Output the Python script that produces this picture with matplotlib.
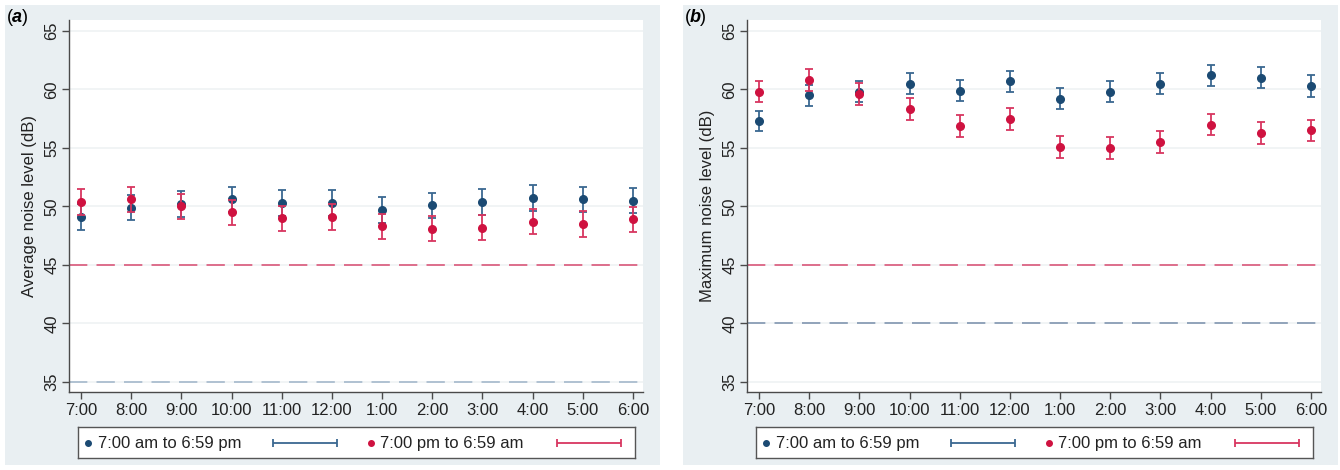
import matplotlib
matplotlib.use('Agg')
import matplotlib.pyplot as plt
from matplotlib.patches import Rectangle

plt.rcParams['font.family'] = ['Liberation Sans', 'DejaVu Sans']

hours = ['7:00', '8:00', '9:00', '10:00', '11:00', '12:00',
         '1:00', '2:00', '3:00', '4:00', '5:00', '6:00']

# (a) average noise level, mean and 95% CI half width
avg_day = [49.1, 49.9, 50.2, 50.6, 50.3, 50.3, 49.7, 50.1, 50.4, 50.7, 50.6, 50.5]
avg_day_err = [1.08, 1.09, 1.1, 1.09, 1.1, 1.1, 1.1, 1.09, 1.1, 1.11, 1.1, 1.1]
avg_night = [50.4, 50.6, 50.0, 49.5, 49.0, 49.1, 48.3, 48.1, 48.2, 48.7, 48.5, 48.9]
avg_night_err = [1.09, 1.1, 1.08, 1.07, 1.08, 1.07, 1.06, 1.07, 1.07, 1.07, 1.07, 1.07]

# (b) maximum noise level
max_day = [57.3, 59.5, 59.8, 60.5, 59.9, 60.7, 59.2, 59.8, 60.5, 61.2, 61.0, 60.3]
max_day_err = [0.89, 0.89, 0.9, 0.9, 0.9, 0.9, 0.9, 0.9, 0.9, 0.92, 0.9, 0.9]
max_night = [59.8, 60.8, 59.6, 58.3, 56.9, 57.5, 55.1, 55.0, 55.5, 57.0, 56.3, 56.5]
max_night_err = [0.9, 0.97, 0.93, 0.93, 0.93, 0.93, 0.93, 0.93, 0.93, 0.93, 0.93, 0.93]

# guideline levels
limits_a = [45, 35]
limits_b = [45, 40]

day_label = '7:00 am to 6:59 pm'
night_label = '7:00 pm to 6:59 am'

navy = '#1B4A73'
navy_bar = '#3A6891'
red = '#CF1240'
red_bar = '#D83660'
red_dash = '#D9577A'
bg = '#E9EFF2'
fs = 12

W, H = 1340, 470
fig = plt.figure(figsize=(13.4, 4.7), dpi=100)
fig.patch.set_facecolor('white')


def px(x0, y0, x1, y1):
    # pixel box (top-left origin) -> figure fraction rect
    return [x0 / W, 1 - y1 / H, (x1 - x0) / W, (y1 - y0) / H]


def panel(off, day, day_err, night, night_err, limits, lim_colors, ylabel, tag):
    r = px(off + 5, 5, off + 660, 465)
    fig.patches.append(Rectangle((r[0], r[1]), r[2], r[3], transform=fig.transFigure,
                                 facecolor=bg, edgecolor='none', zorder=-10))
    ax = fig.add_axes(px(off + 69, 20, off + 643, 392))
    ax.set_facecolor('white')
    x = range(len(hours))
    for y, c in zip(limits, lim_colors):
        ax.axhline(y, color=c, lw=1.2, dashes=(11, 5.5), zorder=1)
    ax.errorbar(x, day, yerr=day_err, fmt='none', ecolor=navy_bar, elinewidth=1.3,
                capsize=3.2, capthick=1.3, zorder=3)
    ax.plot(x, day, 'o', color=navy, ms=5.5, zorder=4)
    ax.errorbar(x, night, yerr=night_err, fmt='none', ecolor=red_bar, elinewidth=1.3,
                capsize=3.2, capthick=1.3, zorder=5)
    ax.plot(x, night, 'o', color=red, ms=5.5, zorder=6)

    ax.set_xlim(-0.24, 11.2)
    ax.set_ylim(34.14, 65.94)
    ax.set_yticks([35, 40, 45, 50, 55, 60, 65])
    ax.set_xticks(list(x))
    ax.set_xticklabels(hours)
    ax.grid(axis='y', color='#EDF1F3', lw=1.1, zorder=0)
    ax.set_axisbelow(True)
    for s in ['top', 'right']:
        ax.spines[s].set_visible(False)
    for s in ['left', 'bottom']:
        ax.spines[s].set_color('#4A4A4A')
        ax.spines[s].set_linewidth(1.0)
    ax.tick_params(axis='both', length=5, width=1, color='#4A4A4A',
                   labelsize=fs, labelcolor='#222222')
    ax.tick_params(axis='x', pad=3)
    ax.tick_params(axis='y', labelrotation=90, pad=2)
    for t in ax.get_yticklabels():
        t.set_va('center')
    ax.set_ylabel(ylabel, fontsize=fs, color='#222222', labelpad=5)

    # legend box below the plot
    lax = fig.add_axes(px(off + 78, 427, off + 635, 458))
    lax.set_xlim(0, 557)
    lax.set_ylim(0, 1)
    lax.set_xticks([])
    lax.set_yticks([])
    for s in lax.spines.values():
        s.set_color('#555555')
        s.set_linewidth(1.0)
    lax.plot([10], [0.5], 'o', color=navy, ms=4)
    lax.text(20, 0.47, day_label, fontsize=fs, va='center', color='#222222')
    lax.errorbar([226.5], [0.5], xerr=[32], fmt='none', ecolor=navy_bar,
                 elinewidth=1.3, capsize=3, capthick=1.3)
    lax.plot([293], [0.5], 'o', color=red, ms=4)
    lax.text(302, 0.47, night_label, fontsize=fs, va='center', color='#222222')
    lax.errorbar([510.5], [0.5], xerr=[32], fmt='none', ecolor=red_bar,
                 elinewidth=1.3, capsize=3, capthick=1.3)

    # panel tag
    fig.text((off + 7) / W, 1 - 17 / H, '(', fontsize=13, va='center', ha='left')
    fig.text((off + 12) / W, 1 - 17 / H, tag, fontsize=13, va='center', ha='left',
             fontweight='bold', fontstyle='italic')
    fig.text((off + 22) / W, 1 - 17 / H, ')', fontsize=13, va='center', ha='left')
    return ax


panel(0, avg_day, avg_day_err, avg_night, avg_night_err, limits_a,
      [red_dash, '#A5B8CB'], 'Average noise level (dB)', 'a')
panel(678, max_day, max_day_err, max_night, max_night_err, limits_b,
      [red_dash, '#8196B0'], 'Maximum noise level (dB)', 'b')

fig.savefig('out.png', dpi=100)
